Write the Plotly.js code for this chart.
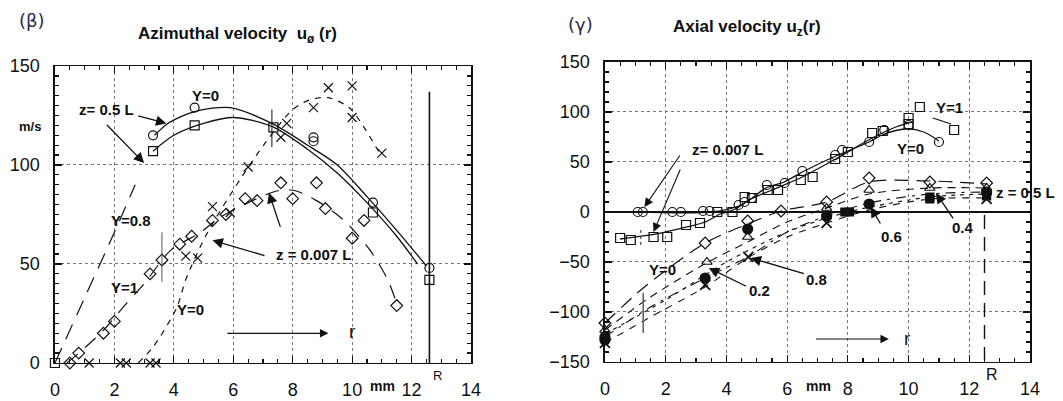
<!DOCTYPE html>
<html><head><meta charset="utf-8">
<script src="https://cdn.plot.ly/plotly-3.0.1.min.js"></script>
<style>html,body{margin:0;padding:0;background:#fff;}#chart{width:1063px;height:401px;}</style>
</head><body><div id="chart"></div>
<script>
// ---------- tick labels ----------
const xTickVals = [0,2,4,6,8,10,12,14];
const xTickText = ['0','2','4','6','8','10','12','14'];
const yTickValsL = [0,50,100,150];
const yTickValsR = [-150,-100,-50,0,50,100,150];

// ---------- LEFT: azimuthal velocity ----------
// z = 0.5 L, Y = 0 (open circles) and Y = 1 (open squares)
const azCircX = [3.3,4.7,8.7,8.7,10.7,12.6];
const azCircY = [115,129,114,112,81,48];
const azSqX = [0,3.3,4.7,7.35,10.7,12.6];
const azSqY = [0,107,120,119,76,42];
// solid fitted curves z = 0.5 L
const azFitY0X = [3.35,3.8,4.7,5.9,7.3,8.5,9.5,10.5,11.5,12.5];
const azFitY0Y = [115,121,127,129,121,110,100,84,67,49];
const azFitY1X = [3.3,4.0,5.0,6.0,7.3,8.5,9.5,10.5,11.5,12.2];
const azFitY1Y = [107,115,121,124,119.5,108,96,81,64,50];
// z = 0.5 L, Y = 0.8 long dash
const azY08X = [0,1,2,2.7];
const azY08Y = [0,33,66,90];
// z = 0.007 L, Y = 1 (diamonds)
const azDiaX = [0.5,0.8,1.63,2.0,3.2,3.6,4.2,4.6,5.3,5.75,6.4,6.8,7.6,8.0,8.8,9.1,10.0,10.4,11.5];
const azDiaY = [0,5,15,21,45,52,60,64,72,75,83,82,91,83,91,78,63,72,29];
const azDiaFitX = [0.4,0.8,1.6,2.4,3.0,3.9,4.9,5.5,6.5,7.5,8.1,8.8,9.4,9.8,10.6,11.2,11.5];
const azDiaFitY = [0,5,16,30,40,57,66,73,81,87,87,82,76,71,57,42,30];
// z = 0.007 L, Y = 0 (crosses)
const azCrX = [1.15,2.2,2.4,3.2,3.4,4.4,4.8,5.3,5.9,6.5,7.6,7.8,8.7,9.2,10.0,10.0,11.0];
const azCrY = [0,0,0,0,0,54,53,79,76,99,114,121,129,139,140,124,106];
const azCrFitX = [2.8,3.3,4.1,4.4,5.1,6.2,7.07,8.0,8.6,9.2,9.9,10.4,11.0];
const azCrFitY = [0,8,28,42,65,92,111,128,133,134,129,119,104];

// ---------- RIGHT: axial velocity ----------
// z = 0.007 L, Y = 0 (circles) and Y = 1 (squares)
const axCircX = [1.08,1.25,2.22,2.5,3.23,3.45,4.4,4.6,4.84,5.33,5.92,6.5,7.58,7.81,8.7,9.2,10.0,11.0];
const axCircY = [0,0,0,0,1,1,7,10,14,27,29,41,57,62,70,82,87,70];
const axSqX = [0.5,0.85,1.6,2.05,2.67,3.13,3.7,4.2,4.6,4.84,5.36,5.7,6.45,6.84,7.58,8.0,8.8,9.15,10.0,10.0,10.37,11.5];
const axSqY = [-26,-28,-25,-25,-13,-11,0,0,15,14,22,22,32,35,53,60,79,81,88,94,105,82];
const axFitY0X = [1.0,3.5,4.4,4.8,5.3,5.9,6.5,7.6,8.7,9.2,9.9,10.5,11.0];
const axFitY0Y = [0,0,6,13,24,30,40,56,70,78,83,80,71];
const axFitY1X = [0.5,1.7,2.7,3.3,3.8,4.3,4.8,5.5,6.5,7.6,8.8,9.5,10.1];
const axFitY1Y = [-27,-22,-15,-10,-2,3,13,22,35,53,74,84,90];
const axY1LeaderX = [10.8,11.4];
const axY1LeaderY = [94,88];
// z = 0.5 L, Y = 0, 0.2, 0.4, 0.6, 0.8
const axDiaX = [0,3.3,4.7,5.8,7.3,8.7,10.7,12.57];
const axDiaY = [-111,-31,-9,1,10,34,30,29];
const axTriX = [0,3.36,4.7,7.3,8.7,10.7,12.57];
const axTriY = [-118,-50,-25,4,22,24,24];
const axFSqX = [7.9,8.05,10.7,10.7,12.57];
const axFSqY = [0,0,15,13,16];
const axFCircX = [0,0,3.3,4.7,7.3,8.7,12.57];
const axFCircY = [-125,-128,-66,-17,-4,8,20];
const axXX = [0,3.3,4.72,7.3,12.57];
const axXY = [-131,-73,-45,-11,13];
const axD0X = [0,1.3,3.3,4.7,5.8,7.3,8.7,10.7,12.6];
const axD0Y = [-111,-75,-31,-12,1,10,30,31,28];
const axD2X = [0,1.5,3.4,4.7,6,7.3,8.7,10.7,12.6];
const axD2Y = [-118,-85,-50,-30,-10,4,18,24,24];
const axD4X = [0,2,4,6,8,10.7,12.6];
const axD4Y = [-122,-88,-50,-20,0,15,18];
const axD6X = [0,1.5,3.3,4.7,6,7.3,8.7,10.7,12.6];
const axD6Y = [-125,-95,-66,-45,-20,-4,9,18,20];
const axD8X = [0,1.5,3.3,4.7,6,7.3,8.7,10.7,12.6];
const axD8Y = [-131,-105,-75,-46,-25,-11,2,13,14];

const INK = '#111';
const FONT = 'Liberation Sans, Arial, Helvetica, sans-serif';

function mk(x,y,sym,size,xa,ya,lw){
  return {x:x,y:y,xaxis:xa,yaxis:ya,mode:'markers',cliponaxis:false,
    marker:{symbol:sym,size:size,color:INK,line:{color:INK,width:lw||1.2}},hoverinfo:'skip'};
}
function ln(x,y,dash,xa,ya,w){
  return {x:x,y:y,xaxis:xa,yaxis:ya,mode:'lines',line:{color:INK,width:w||1.4,dash:dash,shape:'spline',smoothing:0.8},hoverinfo:'skip'};
}

const traces = [
  // left
  ln(azFitY0X,azFitY0Y,'solid','x','y',1.3),
  ln(azFitY1X,azFitY1Y,'solid','x','y',1.3),
  ln(azY08X,azY08Y,'16px,10px','x','y',1.2),
  ln(azDiaFitX,azDiaFitY,'14px,10px','x','y',1.2),
  ln(azCrFitX,azCrFitY,'6px,6px','x','y',1.2),
  mk(azCircX,azCircY,'circle-open',9,'x','y'),
  mk(azSqX,azSqY,'square-open',9,'x','y'),
  mk(azDiaX,azDiaY,'diamond-open',9,'x','y'),
  mk(azCrX,azCrY,'x-thin-open',9,'x','y'),
  // right
  ln(axFitY0X,axFitY0Y,'solid','x2','y2',1.3),
  ln(axFitY1X,axFitY1Y,'solid','x2','y2',1.3),
  {x:axY1LeaderX,y:axY1LeaderY,xaxis:'x2',yaxis:'y2',mode:'lines',line:{color:INK,width:1.2},hoverinfo:'skip'},
  ln(axD0X,axD0Y,'14px,8px','x2','y2',1.2),
  ln(axD2X,axD2Y,'8px,6px','x2','y2',1.1),
  ln(axD4X,axD4Y,'4px,5px','x2','y2',1.1),
  ln(axD6X,axD6Y,'10px,6px,3px,6px','x2','y2',1.1),
  ln(axD8X,axD8Y,'7px,7px','x2','y2',1.1),
  mk(axCircX,axCircY,'circle-open',9,'x2','y2'),
  mk(axSqX,axSqY,'square-open',9,'x2','y2'),
  mk(axDiaX,axDiaY,'diamond-open',9,'x2','y2'),
  mk(axTriX,axTriY,'triangle-up-open',9,'x2','y2'),
  mk(axFSqX,axFSqY,'square',8,'x2','y2'),
  mk(axFCircX,axFCircY,'circle',10,'x2','y2'),
  mk(axXX,axXY,'x-thin-open',10,'x2','y2',1.8)
];

function axisBase(extra){
  return Object.assign({
    showline:true, linecolor:INK, linewidth:1.5, mirror:'ticks',
    ticks:'inside', ticklen:7, tickwidth:1.2, tickcolor:INK,
    showgrid:true, gridcolor:'#777', griddash:'dot', gridwidth:1,
    zeroline:false, fixedrange:true,
    tickfont:{family:FONT,size:18,color:INK},
  },extra);
}

const layout = {
  width:1063, height:401, margin:{l:0,r:0,t:0,b:0},
  paper_bgcolor:'#fff', plot_bgcolor:'#fff', showlegend:false,
  xaxis: axisBase({domain:[0.0517,0.4431], range:[0,14], tickvals:xTickVals, ticktext:xTickText,
    minor:{ticks:'inside',ticklen:4,dtick:0.5,tickcolor:INK,showgrid:false}, ticklabelstandoff:10}),
  yaxis: axisBase({domain:[0.0948,0.8354], range:[0,150], tickvals:yTickValsL,
    minor:{ticks:'inside',ticklen:4,dtick:5,tickcolor:INK,showgrid:false}, ticklabelstandoff:10}),
  xaxis2: axisBase({domain:[0.5691,0.9690], range:[0,14], tickvals:xTickVals, ticktext:xTickText, anchor:'y2',
    minor:{ticks:'inside',ticklen:4,dtick:0.5,tickcolor:INK,showgrid:false}, ticklabelstandoff:10}),
  yaxis2: axisBase({domain:[0.0973,0.8454], range:[-150,150], tickvals:yTickValsR, anchor:'x2',
    zeroline:true, zerolinecolor:INK, zerolinewidth:1.6,
    minor:{ticks:'inside',ticklen:4,dtick:10,tickcolor:INK,showgrid:false}, ticklabelstandoff:10}),
  shapes:[
    {type:'line',xref:'x',yref:'y',x0:12.6,x1:12.6,y0:-3,y1:137,line:{color:INK,width:1.6}},
    {type:'line',xref:'x2',yref:'y2',x0:12.5,x1:12.5,y0:-3,y1:-148,line:{color:INK,width:1.4,dash:'14px,8px'}},
    // error bars
    {type:'line',xref:'x',yref:'y',x0:7.3,x1:7.3,y0:109,y1:128,line:{color:INK,width:1}},
    {type:'line',xref:'x',yref:'y',x0:3.6,x1:3.6,y0:41,y1:66,line:{color:'#555',width:1}},
    {type:'line',xref:'x2',yref:'y2',x0:1.26,x1:1.26,y0:-121,y1:-81,line:{color:'#666',width:1.6}},
    {type:'line',xref:'x2',yref:'y2',x0:1.18,x1:1.18,y0:-33,y1:-15,line:{color:'#444',width:1.2,dash:'dot'}}
  ],
  annotations:[]
};

const A = layout.annotations;
function txt(x,y,t,xr,yr,size,bold,xanchor){
  A.push({x:x,y:y,xref:xr,yref:yr,text:bold?'<b>'+t+'</b>':t,showarrow:false,
    font:{family:FONT,size:size,color:INK},xanchor:xanchor||'center',yanchor:'middle'});
}
function ptxt(px,py,t,size,fam,col){
  A.push({x:px/1063,y:1-py/401,xref:'paper',yref:'paper',text:t,showarrow:false,
    xanchor:'center',yanchor:'middle',font:{family:fam||FONT,size:size,color:col||INK}});
}
function arr(hx,hy,tx,ty,xr,yr,w,sz){
  A.push({x:hx,y:hy,ax:tx,ay:ty,xref:xr,yref:yr,axref:xr,ayref:yr,text:'',showarrow:true,
    arrowhead:2,arrowsize:sz||1.6,arrowwidth:w||1.3,arrowcolor:INK});
}
// headings
ptxt(32,21,'(β)',18,'DejaVu Sans, sans-serif','#2c2a4a');
ptxt(580,24,'(γ)',18,'DejaVu Sans, sans-serif','#2c2a4a');
ptxt(237,35,'<b>Azimuthal velocity  u<sub>ø</sub> (r)</b>',17);
ptxt(747,28,'<b>Axial velocity u<sub>z</sub>(r)</b>',17);
ptxt(30,127,'<b>m/s</b>',13);
// axis extras
ptxt(382,386,'<b>mm</b>',14);
ptxt(437,375,'R',13);
ptxt(818,386,'<b>mm</b>',14);
ptxt(992,374,'R',16);
// left in-plot labels
txt(5.05,135,'Y=0','x','y',15,true);
txt(1.75,128,'z= 0.5 L','x','y',15,true);
arr(3.75,121,2.75,125,'x','y');
arr(3.0,101,1.7,121,'x','y');
txt(2.55,72,'Y=0.8','x','y',15,true);
txt(2.35,38,'Y=1','x','y',15,true);
txt(4.55,27,'Y=0','x','y',15,true);
txt(8.7,55,'z = 0.007 L','x','y',15,true);
arr(5.3,62,7.1,54,'x','y');
arr(7.2,86,7.6,68,'x','y');
arr(9.2,15,5.75,15,'x','y',1.2,1.4);
txt(10.0,16,'r','x','y',19,false);
// right in-plot labels
txt(11.35,104,'Y=1','x2','y2',15,true);
txt(10.05,63,'Y=0','x2','y2',15,true);
txt(4.05,62,'z= 0.007 L','x2','y2',15,true);
arr(1.3,5,2.5,58,'x2','y2',1.1);
arr(1.6,-20,2.5,44,'x2','y2',1.1);
txt(12.8,19,'z = 0.5 L','x2','y2',15,true,'left');
txt(11.8,-16,'0.4','x2','y2',15,true);
arr(10.9,19,11.5,-8,'x2','y2');
txt(9.45,-25,'0.6','x2','y2',15,true);
arr(8.75,5,9.1,-13,'x2','y2');
txt(6.98,-68,'0.8','x2','y2',15,true);
arr(4.8,-46,6.6,-62,'x2','y2');
txt(5.08,-79,'0.2','x2','y2',15,true);
arr(3.42,-56,4.7,-75,'x2','y2');
txt(1.9,-58,'Y=0','x2','y2',15,true);
arr(9.35,-127,6.9,-127,'x2','y2',1.2,1.4);
txt(9.97,-127,'r','x2','y2',19,false);

Plotly.newPlot('chart',traces,layout,{staticPlot:true,displayModeBar:false});
</script>
</body></html>
